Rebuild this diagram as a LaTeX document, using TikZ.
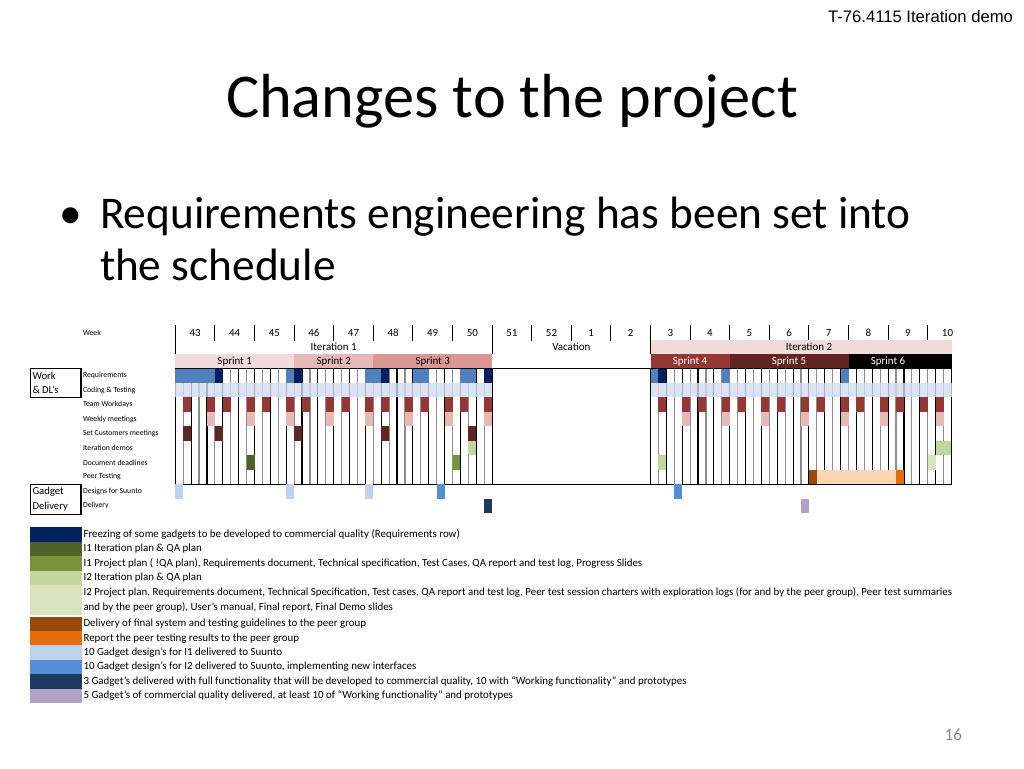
\documentclass[tikz,border=0pt]{standalone}
\usepackage{fontspec}
\setmainfont{Carlito}
\newfontfamily\arialfont{Liberation Sans}
\definecolor{reqblue}{HTML}{4F81BD}
\definecolor{navy}{HTML}{002060}
\definecolor{codeblue}{HTML}{D0DDEE}
\definecolor{teamred}{HTML}{953735}
\definecolor{weekpink}{HTML}{E6B8B7}
\definecolor{maroon}{HTML}{632523}
\definecolor{olive}{HTML}{4F6228}
\definecolor{green2}{HTML}{77933C}
\definecolor{green3}{HTML}{C3D69B}
\definecolor{green4}{HTML}{D7E4BD}
\definecolor{brown}{HTML}{984807}
\definecolor{orange}{HTML}{E46C0A}
\definecolor{peach}{HTML}{FCD5B4}
\definecolor{lblue}{HTML}{BCD2EE}
\definecolor{mblue}{HTML}{558ED5}
\definecolor{dnavy}{HTML}{1F3A60}
\definecolor{lav}{HTML}{B3A2C7}
\definecolor{sp1}{HTML}{F2DCDB}
\definecolor{sp2}{HTML}{E6B8B7}
\definecolor{sp3}{HTML}{DA9694}
\definecolor{pgray}{HTML}{898989}
\newcommand\dcell[3]{\fill[#3] ({175.3+7.92*(#1)},{368.5+14.45*(#2)}) rectangle ++(7.92,14.45);}
\tikzset{
  lab/.style={anchor=west, font=\fontsize{5.8}{6}\selectfont},
  hd/.style={font=\fontsize{8.2}{9}\selectfont},
  leg/.style={anchor=west, font=\fontsize{8.2}{9.7}\selectfont},
  dline/.style={line width=0.85pt, black},
  gline/.style={line width=0.85pt, black!45},
  boxtxt/.style={anchor=west, font=\fontsize{8}{9}\selectfont},
}
\begin{document}
\begin{tikzpicture}[x=0.75pt,y=-0.75pt, every node/.style={inner sep=0pt, outer sep=0pt}]
\useasboundingbox (0,0) rectangle (1024,768);
\fill[white] (0,0) rectangle (1024,768);

% slide texts
\node[anchor=base east, font=\arialfont\fontsize{12.5}{14}\selectfont] (hdr) at (1013,22) {T-76.4115 Iteration demo};
\node[anchor=base, font=\fontsize{46.7}{50}\selectfont] (title) at (512,117) {Changes to the project};
\node[anchor=base west, font=\fontsize{34}{40}\selectfont] (bul) at (59,228) {•};
\node[anchor=base west, font=\fontsize{34}{40}\selectfont] (b1) at (100,228) {Requirements engineering has been set into};
\node[anchor=base west, font=\fontsize{34}{40}\selectfont] (b2) at (100,280) {the schedule};
\node[anchor=base east, text=pgray, font=\fontsize{12.8}{14}\selectfont] (pn) at (962,740) {16};

% header of chart
\node[lab] (wk) at (83,333) {Week};
\foreach \w [count=\i from 0] in {43,44,45,46,47,48,49,50,51,52,1,2,3,4,5,6,7,8,9,10}
  {\node[hd] (w\i) at ({175.3+39.6*(\i+0.5)},333) {\w};}
\foreach \i in {1,...,7,9,10,11,13,14,...,19}
  {\draw[dline] ({175.3+39.6*\i},325) -- ({175.3+39.6*\i},341);}

% iteration row
\fill[sp1] (650.5,340) rectangle (951.5,354.2);
\node[hd] (it1) at (333.7,347) {Iteration 1};
\node[hd] (vac) at (571.3,347) {Vacation};
\node[hd] (it2) at (809,347) {Iteration 2};

% sprint row
\fill[sp1] (175.3,354.2) rectangle (294.1,368.5);
\fill[sp2] (294.1,354.2) rectangle (373.3,368.5);
\fill[sp3] (373.3,354.2) rectangle (492.1,368.5);
\fill[teamred] (650.5,354.2) rectangle (729.7,368.5);
\fill[maroon] (729.7,354.2) rectangle (848.5,368.5);
\fill[black] (848.5,354.2) rectangle (951.5,368.5);
\node[hd] (s1) at (234.7,361.3) {Sprint 1};
\node[hd] (s2) at (333.7,361.3) {Sprint 2};
\node[hd] (s3) at (432.7,361.3) {Sprint 3};
\node[hd, text=white] (s4) at (690.1,361.3) {Sprint 4};
\node[hd, text=white] (s5) at (789.1,361.3) {Sprint 5};
\node[hd, text=white] (s6) at (888,361.3) {Sprint 6};
\foreach \i in {0,8,12}
  {\draw[dline] ({175.3+39.6*\i},325) -- ({175.3+39.6*\i},354.2);}

% grid lines
\draw[dline] (175.3,368.5) -- (951.5,368.5);
\foreach \d in {0,2,...,40,60,62,...,98}
  {\draw[dline] ({175.3+7.92*\d},368.5) -- ({175.3+7.92*\d},484.1);}
\foreach \d in {1,3,...,39,61,63,...,97}
  {\draw[gline] ({175.3+7.92*\d},368.5) -- ({175.3+7.92*\d},484.1);}
\draw[dline] (175.3,484.1) -- (951.5,484.1);

% coding & testing band
\fill[codeblue, opacity=0.8] (175.3,382.95) rectangle (492.1,397.4);
\fill[codeblue, opacity=0.8] (650.5,382.95) rectangle (951.5,397.4);

% requirements
\fill[reqblue] (175.3,368.5) rectangle ({175.3+7.92*5},382.95);
\foreach \d in {14,24,25,30,31,36,37,60,69,84} {\dcell{\d}{0}{reqblue}}
\foreach \d in {5,15,26,39,61} {\dcell{\d}{0}{navy}}

% team workdays and weekly meetings
\foreach \w in {0,...,7,12,13,...,18} {
  \dcell{5*\w+1}{2}{teamred}
  \dcell{5*\w+4}{2}{teamred}
}
\dcell{96}{2}{teamred}
\foreach \d in {4,9,...,39,64,69,...,89,96} {\dcell{\d}{3}{weekpink}}

% set customers meetings
\foreach \d in {1,5,15,26,37} {\dcell{\d}{4}{maroon}}

% iteration demos and document deadlines
\foreach \d in {37,96,97} {\dcell{\d}{5}{green3}}
\dcell{9}{6}{olive}
\dcell{35}{6}{green2}
\dcell{61}{6}{green3}
\dcell{95}{6}{green4}

% peer testing
\dcell{80}{7}{brown}
\foreach \d in {81,...,90} {\dcell{\d}{7}{peach}}
\dcell{91}{7}{orange}

% designs and delivery
\foreach \d in {0,14,24} {\dcell{\d}{8}{lblue}}
\foreach \d in {33,63} {\dcell{\d}{8}{mblue}}
\dcell{39}{9}{dnavy}
\dcell{79}{9}{lav}

% row labels
\foreach \t [count=\r from 0] in {Requirements,Coding \& Testing,Team Workdays,Weekly meetings,Set Customers meetings,Iteration demos,Document deadlines,Peer Testing,Designs for Suunto,Delivery}
  {\node[lab] (r\r) at (83,{368.5+14.45*(\r+0.5)}) {\t};}

% boxes
\draw[line width=0.8pt] (30.5,368.5) rectangle (81,397.4);
\node[boxtxt] (work1) at (32.5,375.5) {Work};
\node[boxtxt] (work2) at (32.5,390.2) {\& DL’s};
\draw[line width=0.8pt] (30.5,484.1) rectangle (81,514.5);
\node[boxtxt] (gad1) at (32.5,491.3) {Gadget};
\node[boxtxt] (gad2) at (32.5,506.3) {Delivery};

% legend
\fill[navy] (30,527.3) rectangle (82,541.8);
\node[leg] (l1) at (83.5,534.5) {Freezing of some gadgets to be developed to commercial quality (Requirements row)};
\fill[olive] (30,541.8) rectangle (82,556.2);
\node[leg] (l2) at (83.5,549) {I1 Iteration plan \& QA plan};
\fill[green2] (30,556.2) rectangle (82,570.6);
\node[leg] (l3) at (83.5,563.4) {I1 Project plan ( !QA plan), Requirements document, Technical specification, Test Cases, QA report and test log, Progress Slides};
\fill[green3] (30,570.6) rectangle (82,585);
\node[leg] (l4) at (83.5,577.8) {I2 Iteration plan \& QA plan};
\fill[green4] (30,585) rectangle (82,615);
\begin{scope}
\clip (83,585) rectangle (952,600);
\node[leg] (l5a) at (83.5,592.3) {I2 Project plan, Requirements document, Technical Specification, Test cases, QA report and test log, Peer test session charters with exploration logs (for and by the peer group), Peer test summaries};
\end{scope}
\node[leg] (l5b) at (83.5,607) {and by the peer group), User’s manual, Final report, Final Demo slides};
\fill[brown] (30,616.7) rectangle (82,631);
\node[leg] (l6) at (83.5,623.8) {Delivery of final system and testing guidelines to the peer group};
\fill[orange] (30,631) rectangle (82,645.3);
\node[leg] (l7) at (83.5,638.2) {Report the peer testing results to the peer group};
\fill[lblue] (30,645.3) rectangle (82,659.5);
\node[leg] (l8) at (83.5,652.4) {10 Gadget design’s for I1 delivered to Suunto};
\fill[mblue] (30,659.5) rectangle (82,674);
\node[leg] (l9) at (83.5,666.7) {10 Gadget design’s for I2 delivered to Suunto, implementing new interfaces};
\fill[dnavy] (30,674) rectangle (82,688.5);
\node[leg] (l10) at (83.5,681.2) {3 Gadget’s delivered with full functionality that will be developed to commercial quality, 10 with “Working functionality” and prototypes};
\fill[lav] (30,688.5) rectangle (82,703.3);
\node[leg] (l11) at (83.5,695.9) {5 Gadget’s of commercial quality delivered, at least 10 of “Working functionality” and prototypes};
\end{tikzpicture}
\end{document}
